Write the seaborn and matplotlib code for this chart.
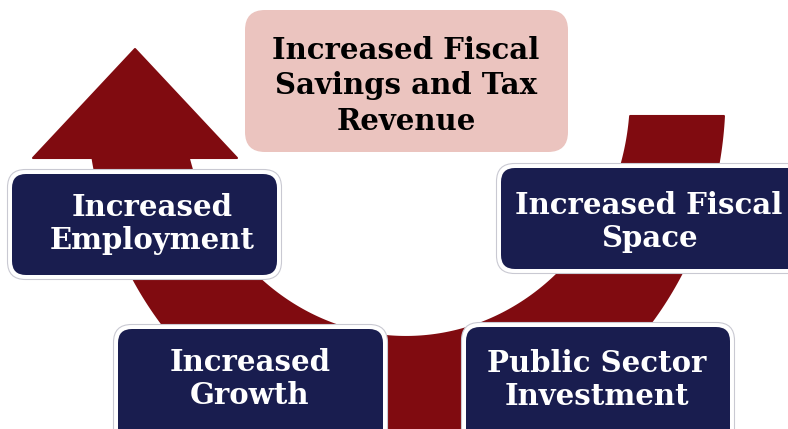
import numpy as np
import matplotlib
matplotlib.use("Agg")
import matplotlib.pyplot as plt
from matplotlib.patches import FancyBboxPatch, Polygon
import seaborn as sns

sns.set_theme(style="white")
plt.rcParams['font.family'] = ['DejaVu Serif', 'DejaVu Sans']

# box labels (top box first, then the four cycle steps)
top_label = "Increased Fiscal\nSavings and Tax\nRevenue"
step_labels = ["Increased\nEmployment",
               "Increased Fiscal\nSpace",
               "Increased\nGrowth",
               "Public Sector\nInvestment"]

# layout in pixel units: x, y(top), width, height, text x, text y
step_boxes = [(12, 174, 265, 101, 152, 224),
              (501, 168, 310, 101, 649, 222),
              (118, 329, 265, 120, 250, 379),
              (466, 327, 264, 120, 597, 380)]
top_box = (245, 10, 323, 142, 406, 86)

RED = "#800b10"
NAVY = "#191d4f"
PINK = "#ebc4bf"

fig = plt.figure(figsize=(7.88, 4.29), dpi=100)
ax = fig.add_axes([0, 0, 1, 1])
ax.set_xlim(0, 788)
ax.set_ylim(429, 0)
ax.axis("off")

# curved arrow band (elliptical arc), left end carries the arrow head
cx, cy = 406, 95
a_in, b_in = 225, 242
a_out, b_out = 318.5, 356
y_right, y_left = 116, 158
t_out = np.linspace(np.arcsin((y_right - cy) / b_out),
                    np.pi - np.arcsin((y_left - cy) / b_out), 200)
t_in = np.linspace(np.pi - np.arcsin((y_left - cy) / b_in),
                   np.arcsin((y_right - cy) / b_in), 200)
outer = np.column_stack([cx + a_out * np.cos(t_out), cy + b_out * np.sin(t_out)])
inner = np.column_stack([cx + a_in * np.cos(t_in), cy + b_in * np.sin(t_in)])
head = np.array([[33, y_left], [135, 49], [237, y_left]])
ax.add_patch(Polygon(np.vstack([outer, head, inner]), closed=True,
                     facecolor=RED, edgecolor=RED, linewidth=1.5,
                     joinstyle="round", zorder=1))

# top pink box
x, y, w, h, tx, ty = top_box
ax.add_patch(FancyBboxPatch((x, y), w, h, boxstyle="round,pad=0,rounding_size=20",
                            facecolor=PINK, edgecolor="none", zorder=2))
ax.text(tx, ty, top_label, ha="center", va="center", fontsize=21,
        fontweight="bold", color="black", linespacing=1.3, zorder=3)

# navy boxes with white rim
for (x, y, w, h, tx, ty), label in zip(step_boxes, step_labels):
    ax.add_patch(FancyBboxPatch((x - 4.5, y - 4.5), w + 9, h + 9,
                                boxstyle="round,pad=0,rounding_size=18",
                                facecolor="white", edgecolor="#c9c9d2",
                                linewidth=0.8, zorder=2))
    ax.add_patch(FancyBboxPatch((x, y), w, h, boxstyle="round,pad=0,rounding_size=14",
                                facecolor=NAVY, edgecolor="none", zorder=3))
    ax.text(tx, ty, label, ha="center", va="center", fontsize=21,
            fontweight="bold", color="white", linespacing=1.15, zorder=4)

fig.savefig("out.png", dpi=100)
